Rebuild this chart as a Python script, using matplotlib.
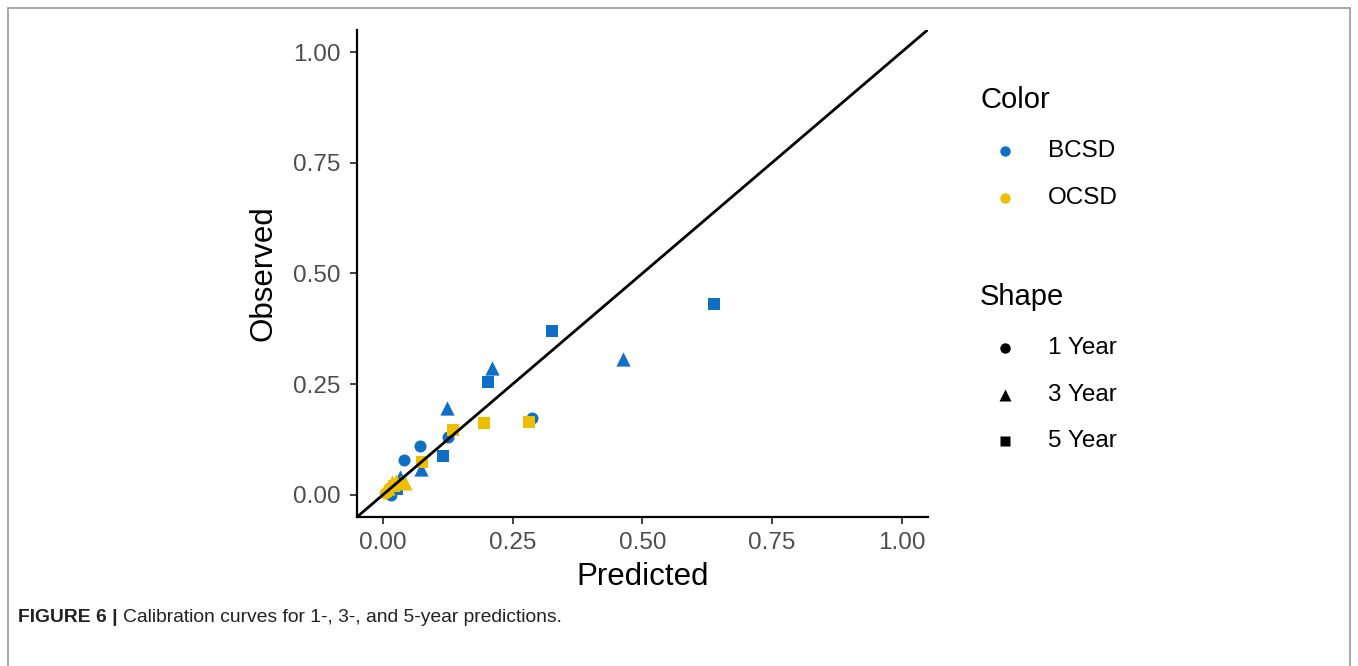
import numpy as np
import matplotlib.pyplot as plt
from matplotlib.lines import Line2D
from matplotlib.patches import Rectangle

# calibration points (predicted, observed)
bcsd_1y_pred = [0.015, 0.040, 0.071, 0.125, 0.287]
bcsd_1y_obs = [0.000, 0.079, 0.111, 0.131, 0.174]
bcsd_3y_pred = [0.033, 0.073, 0.123, 0.210, 0.462]
bcsd_3y_obs = [0.040, 0.058, 0.196, 0.287, 0.307]
bcsd_5y_pred = [0.027, 0.116, 0.202, 0.326, 0.638]
bcsd_5y_obs = [0.012, 0.088, 0.254, 0.369, 0.431]

ocsd_1y_pred = [0.003, 0.008, 0.012, 0.018, 0.024]
ocsd_1y_obs = [0.004, 0.006, 0.015, 0.020, 0.022]
ocsd_3y_pred = [0.010, 0.017, 0.025, 0.034, 0.043]
ocsd_3y_obs = [0.015, 0.029, 0.030, 0.028, 0.026]
ocsd_5y_pred = [0.022, 0.075, 0.135, 0.195, 0.281]
ocsd_5y_obs = [0.020, 0.073, 0.147, 0.163, 0.165]

ticks = [0.00, 0.25, 0.50, 0.75, 1.00]
tick_labels = ["0.00", "0.25", "0.50", "0.75", "1.00"]
groups = ["BCSD", "OCSD"]
horizons = ["1 Year", "3 Year", "5 Year"]

blue = "#0f6fc6"
yellow = "#efbe00"
markers = {"1 Year": "o", "3 Year": "^", "5 Year": "s"}
sizes = {"1 Year": 75, "3 Year": 105, "5 Year": 70}
leg_ms = {"1 Year": 7.5, "3 Year": 9, "5 Year": 7.5}

plt.rcParams['font.family'] = ['Liberation Sans', 'DejaVu Sans']

fig = plt.figure(figsize=(13.58, 6.66), dpi=100)
ax = fig.add_axes([0.263, 0.224, 0.42, 0.731])

series = [
    (blue, "1 Year", bcsd_1y_pred, bcsd_1y_obs),
    (blue, "3 Year", bcsd_3y_pred, bcsd_3y_obs),
    (blue, "5 Year", bcsd_5y_pred, bcsd_5y_obs),
    (yellow, "1 Year", ocsd_1y_pred, ocsd_1y_obs),
    (yellow, "3 Year", ocsd_3y_pred, ocsd_3y_obs),
    (yellow, "5 Year", ocsd_5y_pred, ocsd_5y_obs),
]
for col, h, xs, ys in series:
    ax.scatter(xs, ys, c=col, marker=markers[h], s=sizes[h], linewidths=0, zorder=2)

ax.set_xlim(-0.05, 1.05)
ax.set_ylim(-0.05, 1.05)
ax.axline((0, 0), slope=1, color="black", lw=2, zorder=3)

ax.set_xticks(ticks)
ax.set_xticklabels(tick_labels)
ax.set_yticks(ticks)
ax.set_yticklabels(tick_labels)
ax.tick_params(labelsize=17.5, colors="#333333", labelcolor="#4d4d4d",
               length=5, width=1.3, pad=7)
ax.tick_params(axis="x", pad=6)
for s in ["top", "right"]:
    ax.spines[s].set_visible(False)
for s in ["left", "bottom"]:
    ax.spines[s].set_linewidth(1.6)
ax.set_xlabel("Predicted", fontsize=22.5, labelpad=5.5)
ax.set_ylabel("Observed", fontsize=22.5, labelpad=10)

# legend, laid out by hand in figure pixels
def fx(px):
    return px / 1358


def fy(py):
    return 1 - py / 666


fig.text(fx(980), fy(100), "Color", fontsize=21, va="center", ha="left")
for lab, c, py in zip(groups, [blue, yellow], [151, 198]):
    fig.add_artist(Line2D([fx(1005)], [fy(py)], ls="", marker="o", ms=7.5,
                          mec="none", mfc=c, transform=fig.transFigure))
    fig.text(fx(1048), fy(py), lab, fontsize=17.5, va="center", ha="left")

fig.text(fx(980), fy(297), "Shape", fontsize=21, va="center", ha="left")
for lab, py in zip(horizons, [348, 395, 441]):
    fig.add_artist(Line2D([fx(1005)], [fy(py)], ls="", marker=markers[lab], ms=leg_ms[lab],
                          mec="none", mfc="black", transform=fig.transFigure))
    fig.text(fx(1048), fy(py), lab, fontsize=17.5, va="center", ha="left")

# outer frame and caption
fig.patches.append(Rectangle((0.006, -0.05), 0.988, 1.038, transform=fig.transFigure,
                             fill=False, ec="#9a9a9a", lw=1.2))
fig.text(fx(18), fy(618), "FIGURE 6 |", fontsize=13.9, fontweight="bold", color="#222222",
         va="center")
fig.text(fx(123), fy(618), "Calibration curves for 1-, 3-, and 5-year predictions.", fontsize=13.9,
         color="#222222", va="center")

fig.savefig("out.png", dpi=100)
